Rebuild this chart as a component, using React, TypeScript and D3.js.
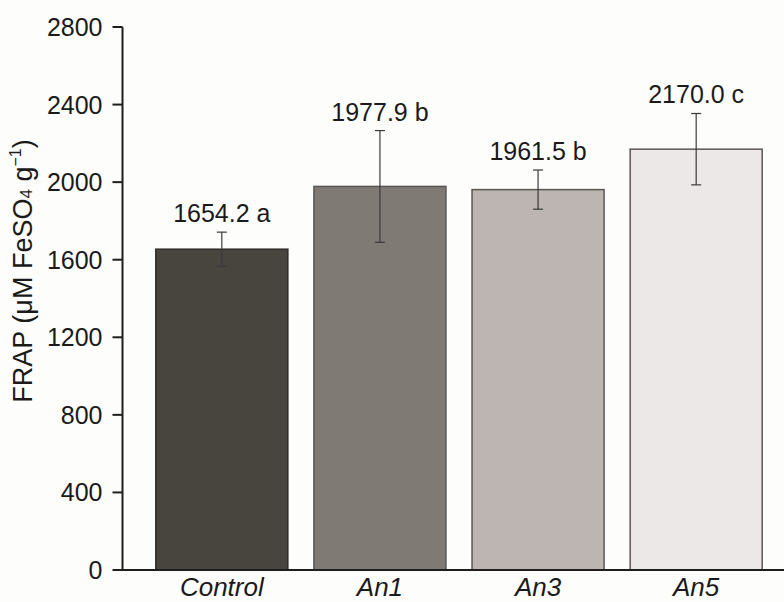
import React from "react";
import * as d3 from "d3";

const categories = ["Control", "An1", "An3", "An5"];
const means = [1654.2, 1977.9, 1961.5, 2170.0];
const errors = [88, 288, 101, 184];
const letters = ["a", "b", "b", "c"];
const barColors = ["#48443e", "#807a75", "#bdb5b2", "#ece8e8"];
const yTicks = [0, 400, 800, 1200, 1600, 2000, 2400, 2800];

const W = 784;
const H = 602;
const axisX = 122.5;
const axisY = 570;
const topY = 27;
const FONT = "'Liberation Sans', Arial, Helvetica, sans-serif";

export default function App() {
  const y = d3.scaleLinear().domain([0, 2800]).range([axisY, topY]);
  const x = d3
    .scaleBand<string>()
    .domain(categories)
    .range([140, 778])
    .paddingInner(0.165)
    .paddingOuter(0.1);

  return (
    <svg
      width={W}
      height={H}
      style={{ position: "absolute", left: 0, top: 0, background: "#fdfdfc" }}
      fontFamily={FONT}
    >
      {/* bars */}
      {categories.map((c, i) => (
        <rect
          key={c}
          x={x(c)!}
          y={y(means[i])}
          width={x.bandwidth()}
          height={axisY - y(means[i])}
          fill={barColors[i]}
          stroke={i === 0 ? "#2e2b27" : "#5a5755"}
          strokeWidth={1.5}
        />
      ))}
      {/* error bars */}
      {categories.map((c, i) => {
        const cx = x(c)! + x.bandwidth() / 2;
        const t = y(means[i] + errors[i]);
        const b = y(means[i] - errors[i]);
        return (
          <g key={c} stroke="#3a3a3a" strokeWidth={1.2}>
            <line x1={cx} x2={cx} y1={t} y2={b} />
            <line x1={cx - 5} x2={cx + 5} y1={t} y2={t} />
            <line x1={cx - 5} x2={cx + 5} y1={b} y2={b} />
          </g>
        );
      })}
      {/* data labels */}
      {categories.map((c, i) => {
        const cx = x(c)! + x.bandwidth() / 2;
        const t = y(means[i] + errors[i]);
        return (
          <text
            key={c}
            x={cx}
            y={t - 10}
            textAnchor="middle"
            fontSize={25}
            fill="#1a1a1a"
          >
            {means[i].toFixed(1) + " " + letters[i]}
          </text>
        );
      })}
      {/* y axis */}
      <line x1={axisX} x2={axisX} y1={topY} y2={axisY} stroke="#1e1e1e" strokeWidth={2} />
      {yTicks.map((t) => (
        <g key={t}>
          <line x1={axisX - 10} x2={axisX} y1={y(t)} y2={y(t)} stroke="#1e1e1e" strokeWidth={2} />
          <text
            x={axisX - 20}
            y={y(t)}
            dy="0.36em"
            textAnchor="end"
            fontSize={25}
            fill="#1a1a1a"
          >
            {t}
          </text>
        </g>
      ))}
      {/* x axis */}
      <line x1={axisX - 1} x2={W} y1={axisY} y2={axisY} stroke="#1e1e1e" strokeWidth={2} />
      {categories.map((c) => (
        <text
          key={c}
          x={x(c)! + x.bandwidth() / 2}
          y={596}
          textAnchor="middle"
          fontSize={26}
          fontStyle="italic"
          fill="#1a1a1a"
        >
          {c}
        </text>
      ))}
      {/* y axis title */}
      <text
        transform={`translate(32, 271) rotate(-90)`}
        textAnchor="middle"
        fontSize={27}
        fill="#1a1a1a"
      >
        FRAP (μM FeSO
        <tspan fontSize={17} dy={0}>4</tspan>
        <tspan> g</tspan>
        <tspan fontSize={16} dy={-11}>−1</tspan>
        <tspan dy={11}>)</tspan>
      </text>
    </svg>
  );
}
